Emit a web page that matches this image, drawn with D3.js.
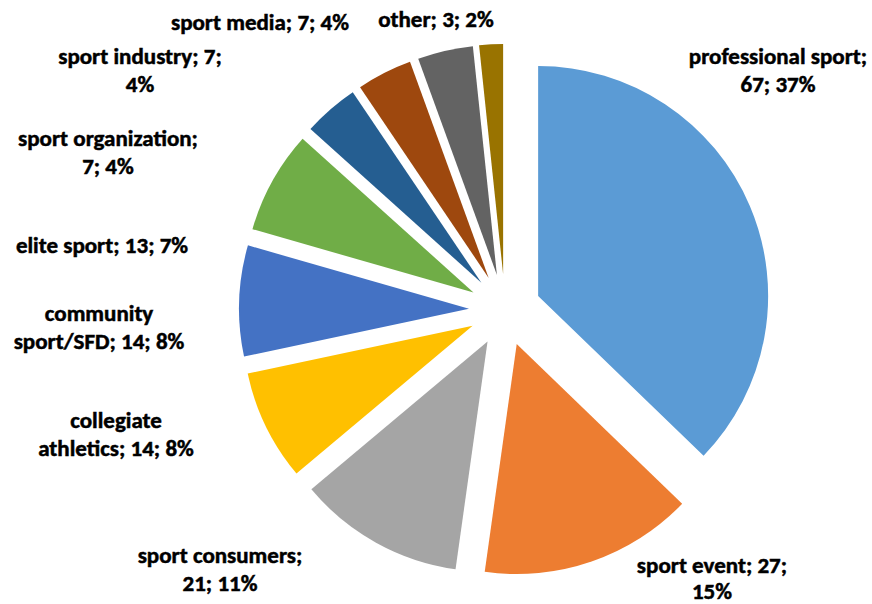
<!DOCTYPE html>
<html>
<head>
<meta charset="utf-8">
<script src="https://cdn.jsdelivr.net/npm/d3@7"></script>
<style>
  body { margin: 0; background: #fff; }
  text { font-family: Carlito, Lato, "Open Sans", sans-serif; font-weight: bold; fill: #000;
         stroke: #000; stroke-width: 0.5px; }
</style>
</head>
<body>
<div id="chart"></div>
<script>
var width = 872;
var height = 604;

// data
var categories = ["professional sport", "sport event", "sport consumers", "collegiate athletics",
  "community sport/SFD", "elite sport", "sport organization", "sport industry", "sport media", "other"];
var values = [67, 27, 21, 14, 14, 13, 7, 7, 7, 3];
var percents = ["37%", "15%", "11%", "8%", "8%", "7%", "4%", "4%", "4%", "2%"];
var colors = ["#5B9BD5", "#ED7D31", "#A5A5A5", "#FFC000", "#4472C4",
  "#70AD47", "#255E91", "#9E480E", "#636363", "#997300"];
// how each label wraps in the original
var labelLines = [
  ["professional sport;", "67; 37%"],
  ["sport event; 27;", "15%"],
  ["sport consumers;", "21; 11%"],
  ["collegiate", "athletics; 14; 8%"],
  ["community", "sport/SFD; 14; 8%"],
  ["elite sport; 13; 7%"],
  ["sport organization;", "7; 4%"],
  ["sport industry; 7;", "4%"],
  ["sport media; 7; 4%"],
  ["other; 3; 2%"]
];

// layout
var cx = 505, cy = 310;
var radius = 230;
var explode = 36;
var lineHeight = 28;
var labelAnchors = [[778, 56], [712, 565], [220, 555], [116, 420], [99, 313],
  [102, 245], [108, 138], [140, 56], [260, 22], [436, 19]];

var svg = d3.select("#chart").append("svg")
  .attr("width", width).attr("height", height);

var pie = d3.pie().sort(null).value(function(d) { return d; });
var arc = d3.arc().innerRadius(0).outerRadius(radius);
var arcs = pie(values);

var g = svg.append("g").attr("transform", "translate(" + cx + "," + cy + ")");

g.selectAll("path")
  .data(arcs)
  .enter().append("path")
  .attr("d", arc)
  .attr("fill", function(d, i) { return colors[i]; })
  .attr("transform", function(d) {
    var mid = (d.startAngle + d.endAngle) / 2;
    return "translate(" + (explode * Math.sin(mid)) + "," + (-explode * Math.cos(mid)) + ")";
  });

var labels = svg.selectAll("text.label")
  .data(labelLines)
  .enter().append("text")
  .attr("class", "label")
  .attr("text-anchor", "middle")
  .style("font-size", "23px");

labels.each(function(lines, i) {
  var t = d3.select(this);
  lines.forEach(function(line, j) {
    t.append("tspan")
      .attr("x", labelAnchors[i][0])
      .attr("y", labelAnchors[i][1] + j * (i === 1 ? 26 : lineHeight))
      .attr("dy", "0.35em")
      .text(line);
  });
});
</script>
</body>
</html>
